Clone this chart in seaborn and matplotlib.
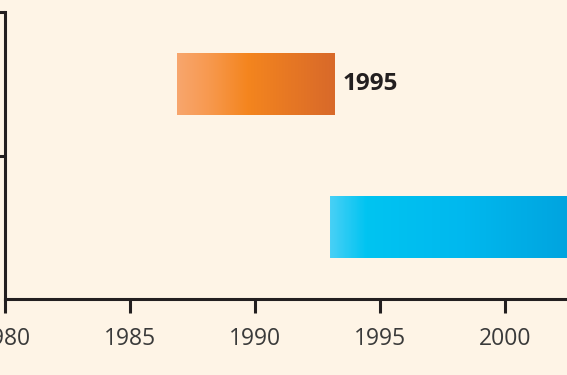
import numpy as np
import pandas as pd
import matplotlib.pyplot as plt
import seaborn as sns
from matplotlib.colors import LinearSegmentedColormap

# ============ Data ============
phases = ["Phase 1", "Phase 2"]
start_year = [1986.9, 1993.0]
end_year = [1993.2, 2005.0]
bar_labels = ["1995", ""]
year_ticks = [1980, 1985, 1990, 1995, 2000]

BG = "#FEF4E6"
INK = "#231F20"
gradients = [
    [(0.0, "#F8A66E"), (0.2, "#F7994F"), (0.45, "#F4851E"), (1.0, "#D8692A")],  # orange
    [(0.0, "#48D0F6"), (0.12, "#00C4F1"), (0.45, "#00B8EE"), (1.0, "#0098D6")],  # blue
]

df = pd.DataFrame({
    "phase": phases,
    "start": start_year,
    "end": end_year,
    "label": bar_labels,
})
df["duration"] = df["end"] - df["start"]

# ============ Plot ============
sns.set_theme(style="white")
plt.rcParams["font.family"] = ["Open Sans", "DejaVu Sans"]

fig = plt.figure(figsize=(5.67, 3.75), dpi=100, facecolor=BG)
ax = fig.add_axes([4.8 / 567, 76 / 375, 562.2 / 567, 287 / 375])
ax.set_facecolor(BG)

sns.barplot(data=df, x="duration", y="phase", orient="h", width=0.43,
            color="#F4871F", linewidth=0, ax=ax)

# move bars to their start year and fill with a left-to-right gradient
grad = np.linspace(0, 1, 256).reshape(1, -1)
for patch, start, cols in zip(ax.patches, df["start"], gradients):
    patch.set_x(start)
    patch.set_facecolor("none")
    x0, y0 = patch.get_x(), patch.get_y()
    w, h = patch.get_width(), patch.get_height()
    cmap = LinearSegmentedColormap.from_list("g", cols)
    im = ax.imshow(grad, cmap=cmap, aspect="auto",
                   extent=[x0, x0 + w, y0 + h, y0], zorder=2)
    im.set_clip_path(patch)

for patch, lab in zip(ax.patches, df["label"]):
    if lab:
        ax.text(patch.get_x() + patch.get_width() + 0.3,
                patch.get_y() + patch.get_height() / 2, lab,
                ha="left", va="center", fontsize=17.5, fontweight="bold",
                color=INK)

ax.set_xlim(1980, 1980 + 562.2 / 25.0)
ax.set_ylim(1.5, -0.5)

ax.set_xticks(year_ticks)
ax.set_xticklabels([str(y) for y in year_ticks])
ax.set_yticks([-0.5, 0.5])
ax.set_yticklabels([])
ax.set_xlabel("")
ax.set_ylabel("")

for side in ["top", "right"]:
    ax.spines[side].set_visible(False)
for side in ["left", "bottom"]:
    ax.spines[side].set_color(INK)
    ax.spines[side].set_linewidth(2.2)

ax.tick_params(axis="both", direction="out", length=10, width=2.2,
               color=INK, left=True, bottom=True)
ax.tick_params(axis="x", labelsize=16.5, labelcolor="#3A3A3A", pad=10.5)

fig.savefig("out.png", dpi=100, facecolor=BG)
